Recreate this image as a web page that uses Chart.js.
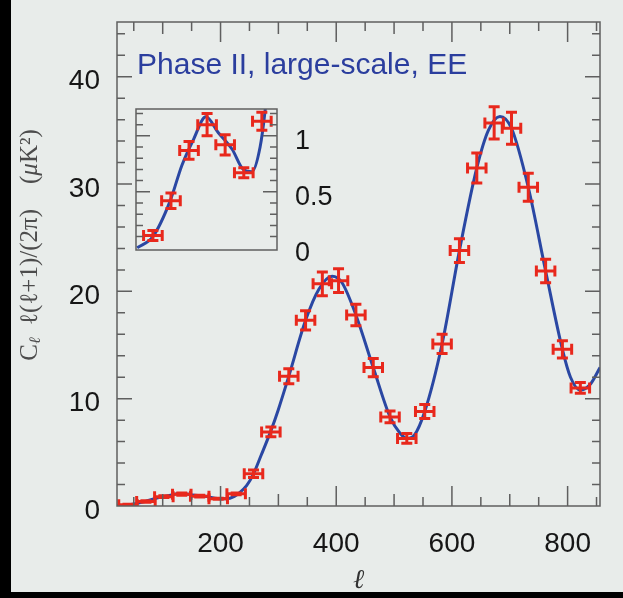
<!DOCTYPE html>
<html>
<head>
<meta charset="utf-8">
<script src="https://cdn.jsdelivr.net/npm/chart.js@4.4.1/dist/chart.umd.min.js"></script>
<style>
  html, body { margin: 0; padding: 0; background: #e8ecea; }
  #wrap { position: relative; width: 623px; height: 598px; overflow: hidden; }
  #main { position: absolute; left: 0; top: 0; }
  #inset { position: absolute; left: 100px; top: 90px; }
</style>
</head>
<body>
<div id="wrap">
  <canvas id="main" width="623" height="598"></canvas>
  <canvas id="inset" width="260" height="180"></canvas>
</div>
<script>
// band powers: bin centre, value, errors
const ell = [40, 71, 102, 133, 164, 196, 227, 257, 287, 318, 347, 376, 404, 434, 464, 493, 522, 553, 583, 613, 643, 673, 703, 732, 762, 791, 822];
const power = [0.11, 0.42, 0.87, 1.10, 0.92, 0.67, 1.13, 3.0, 6.9, 12.1, 17.3, 20.7, 21.0, 17.8, 12.9, 8.3, 6.3, 8.8, 15.1, 23.8, 31.5, 35.7, 35.2, 29.7, 21.9, 14.6, 11.0];
const powerErr = [0.045, 0.07, 0.08, 0.1, 0.09, 0.045, 0.08, 0.35, 0.45, 0.7, 0.9, 1.1, 1.1, 1.0, 0.85, 0.55, 0.45, 0.65, 0.9, 1.1, 1.4, 1.5, 1.5, 1.3, 1.1, 0.8, 0.5];
const ellErr = [16, 16, 16, 16, 16, 16, 16, 16, 16, 16, 16, 16, 16, 16, 16, 16, 16, 16, 16, 16, 16, 16, 16, 16, 16, 16, 16];

// model curve
const curveEll = [13, 40, 69, 90, 109, 131, 152, 176, 195, 210, 224, 232, 245, 257, 270, 287, 300, 318, 347, 370, 393, 410, 434, 464, 493, 510, 522, 535, 553, 583, 613, 643, 663, 683, 703, 732, 762, 791, 805, 822, 840, 856];
const curvePower = [0.0, 0.1, 0.41, 0.74, 0.96, 1.17, 1.03, 0.88, 0.70, 0.68, 0.9, 1.2, 1.9, 3.0, 4.7, 7.0, 9.0, 12.1, 17.3, 20.2, 21.4, 20.8, 17.8, 12.9, 8.3, 6.8, 6.3, 6.6, 8.8, 15.1, 23.8, 31.5, 35.0, 36.3, 35.2, 29.7, 21.9, 14.6, 12.0, 10.8, 11.4, 12.9];

const xTicks = [200, 400, 600, 800];
const yTicks = [0, 10, 20, 30, 40];
const insetTicks = [0, 0.5, 1];

const BG = '#e8ecea';
const FRAME = '#5f5f5f';
const RED = '#e8281c';
const BLUE = '#2a47a3';

const curveData = curveEll.map((l, i) => ({ x: l, y: curvePower[i] }));
const pointData = ell.map((l, i) => ({ x: l, y: power[i] }));

// no extra room for half labels at the ends of an axis
function noEndPadding(s) {
  s.paddingTop = 0; s.paddingBottom = 0; s.paddingLeft = 0; s.paddingRight = 0;
}

// red crosses with caps
const crossPlugin = {
  id: 'crosses',
  afterDatasetsDraw(chart) {
    const { ctx, chartArea: a, scales: { x, y } } = chart;
    const ds = chart.data.datasets.find(d => d.yErr);
    ctx.save();
    ctx.beginPath();
    ctx.rect(a.left, a.top, a.right - a.left, a.bottom - a.top);
    ctx.clip();
    ctx.strokeStyle = RED;
    ctx.lineWidth = 3;
    const cap = 5.5;
    ds.data.forEach((p, i) => {
      const px = x.getPixelForValue(p.x), py = y.getPixelForValue(p.y);
      const x0 = x.getPixelForValue(p.x - ds.xErr[i]), x1 = x.getPixelForValue(p.x + ds.xErr[i]);
      const y0 = y.getPixelForValue(p.y - ds.yErr[i]), y1 = y.getPixelForValue(p.y + ds.yErr[i]);
      ctx.beginPath();
      ctx.moveTo(x0, py); ctx.lineTo(x1, py);
      ctx.moveTo(px, y0); ctx.lineTo(px, y1);
      ctx.moveTo(x0, py - cap); ctx.lineTo(x0, py + cap);
      ctx.moveTo(x1, py - cap); ctx.lineTo(x1, py + cap);
      ctx.moveTo(px - cap, y0); ctx.lineTo(px + cap, y0);
      ctx.moveTo(px - cap, y1); ctx.lineTo(px + cap, y1);
      ctx.stroke();
    });
    ctx.restore();
  }
};

const mainDeco = {
  id: 'mainDeco',
  beforeDraw(chart) {
    const { ctx, width, height } = chart;
    ctx.save();
    ctx.fillStyle = BG;
    ctx.fillRect(0, 0, width, height);
    ctx.restore();
  },
  afterDraw(chart) {
    const { ctx, chartArea: a, scales: { x, y } } = chart;
    ctx.save();
    ctx.strokeStyle = FRAME;
    ctx.lineWidth = 1.5;
    ctx.strokeRect(a.left, a.top, a.right - a.left, a.bottom - a.top);
    ctx.beginPath();
    for (let v = 50; v < 860; v += 50) {
      const px = x.getPixelForValue(v);
      if (px <= a.left || px >= a.right) continue;
      const len = v % 200 === 0 ? 20 : (v % 100 === 0 ? 12 : 9);
      ctx.moveTo(px, a.bottom); ctx.lineTo(px, a.bottom - len);
      ctx.moveTo(px, a.top); ctx.lineTo(px, a.top + len);
    }
    for (let v = 2; v < 46; v += 2) {
      const py = y.getPixelForValue(v);
      const len = v % 10 === 0 ? 15 : 8;
      ctx.moveTo(a.left, py); ctx.lineTo(a.left + len, py);
      ctx.moveTo(a.right, py); ctx.lineTo(a.right - len, py);
    }
    ctx.stroke();

    // title inside the plot
    ctx.fillStyle = '#2b3e9e';
    ctx.font = '30px "Liberation Sans", Arial, sans-serif';
    ctx.textBaseline = 'alphabetic';
    ctx.textAlign = 'left';
    ctx.fillText('Phase II, large-scale, EE', 137, 74);

    // y axis title with subscript
    ctx.translate(28, 245);
    ctx.rotate(-Math.PI / 2);
    ctx.fillStyle = '#4c4c4c';
    const serif = '"Liberation Serif", "DejaVu Serif", serif';
    const parts = [
      { t: 'C', f: '25px ' + serif, dy: 0 },
      { t: 'ℓ', f: 'italic 16px ' + serif, dy: 6 },
      { t: '  ℓ(ℓ+1)/(2π)', f: '25px ' + serif, dy: 0 },
      { t: '    (', f: '25px ' + serif, dy: 0 },
      { t: 'μ', f: 'italic 25px ' + serif, dy: 0 },
      { t: 'K²)', f: '25px ' + serif, dy: 0 }
    ];
    let total = 0;
    parts.forEach(p => { ctx.font = p.f; p.w = ctx.measureText(p.t).width; total += p.w; });
    let cx = -total / 2;
    ctx.textBaseline = 'middle';
    parts.forEach(p => { ctx.font = p.f; ctx.fillText(p.t, cx, p.dy + 2); cx += p.w; });
    ctx.restore();

    // black edges of the scan
    ctx.save();
    ctx.fillStyle = '#000';
    ctx.fillRect(0, 0, 11, chart.height);
    ctx.fillRect(0, 592, chart.width, 6);
    ctx.restore();
  }
};

const tickFont = { family: '"Liberation Sans", Arial, sans-serif', size: 28 };

new Chart(document.getElementById('main'), {
  data: {
    datasets: [
      { type: 'line', data: curveData, borderColor: BLUE, borderWidth: 3, pointRadius: 0,
        cubicInterpolationMode: 'monotone', fill: false },
      { type: 'scatter', data: pointData, pointRadius: 0, xErr: ellErr, yErr: powerErr }
    ]
  },
  options: {
    responsive: false,
    animation: false,
    layout: { padding: { top: 22, right: 23, left: 0, bottom: 0 } },
    plugins: { legend: { display: false }, tooltip: { enabled: false } },
    scales: {
      x: {
        type: 'linear', min: 21, max: 856,
        afterFit: s => { s.height = 92; noEndPadding(s); },
        afterBuildTicks: s => { s.ticks = xTicks.map(v => ({ value: v })); },
        grid: { display: false, drawTicks: false },
        border: { display: false },
        ticks: { padding: 21, font: tickFont, color: '#161616' },
        title: { display: true, text: 'ℓ', color: '#333',
          font: { family: '"DejaVu Serif", serif', style: 'italic', size: 27 },
          padding: { top: 0, bottom: 1 } }
      },
      y: {
        type: 'linear', min: 0, max: 45.1,
        afterFit: s => { s.width = 117; noEndPadding(s); },
        afterBuildTicks: s => { s.ticks = yTicks.map(v => ({ value: v })); },
        grid: { display: false, drawTicks: false },
        border: { display: false },
        ticks: { padding: 17, labelOffset: 5, font: tickFont, color: '#161616' }
      }
    }
  },
  plugins: [mainDeco, crossPlugin]
});

const insetDeco = {
  id: 'insetDeco',
  beforeDatasetsDraw(chart) {
    const { ctx, chartArea: a } = chart;
    ctx.save();
    ctx.fillStyle = BG;
    ctx.fillRect(a.left, a.top, a.right - a.left, a.bottom - a.top);
    ctx.restore();
  },
  afterDraw(chart) {
    const { ctx, chartArea: a, scales: { y } } = chart;
    ctx.save();
    ctx.strokeStyle = FRAME;
    ctx.lineWidth = 1.5;
    ctx.strokeRect(a.left, a.top, a.right - a.left, a.bottom - a.top);
    ctx.beginPath();
    for (let k = 1; k <= 12; k++) {
      const py = y.getPixelForValue(k / 10);
      const len = k % 5 === 0 ? 14 : 7;
      ctx.moveTo(a.left, py); ctx.lineTo(a.left + len, py);
      ctx.moveTo(a.right, py); ctx.lineTo(a.right - len, py);
    }
    ctx.stroke();
    ctx.restore();
  }
};

new Chart(document.getElementById('inset'), {
  data: {
    datasets: [
      { type: 'line', data: curveData, borderColor: BLUE, borderWidth: 3, pointRadius: 0,
        cubicInterpolationMode: 'monotone', fill: false },
      { type: 'scatter', data: pointData, pointRadius: 0, xErr: ellErr, yErr: powerErr }
    ]
  },
  options: {
    responsive: false,
    animation: false,
    layout: { padding: { top: 19, left: 36, right: 0, bottom: 0 } },
    plugins: { legend: { display: false }, tooltip: { enabled: false } },
    scales: {
      x: {
        type: 'linear', min: 11, max: 253,
        afterFit: s => { s.height = 20; noEndPadding(s); },
        grid: { display: false, drawTicks: false },
        border: { display: false },
        ticks: { display: false }
      },
      y: {
        type: 'linear', position: 'right', min: -0.02, max: 1.24,
        afterFit: s => { s.width = 83; noEndPadding(s); },
        afterBuildTicks: s => { s.ticks = insetTicks.map(v => ({ value: v })); },
        grid: { display: false, drawTicks: false },
        border: { display: false },
        ticks: { padding: 18, labelOffset: 6, font: { family: tickFont.family, size: 27 }, color: '#161616',
          callback: v => String(v) }
      }
    }
  },
  plugins: [insetDeco, crossPlugin]
});
</script>
</body>
</html>
